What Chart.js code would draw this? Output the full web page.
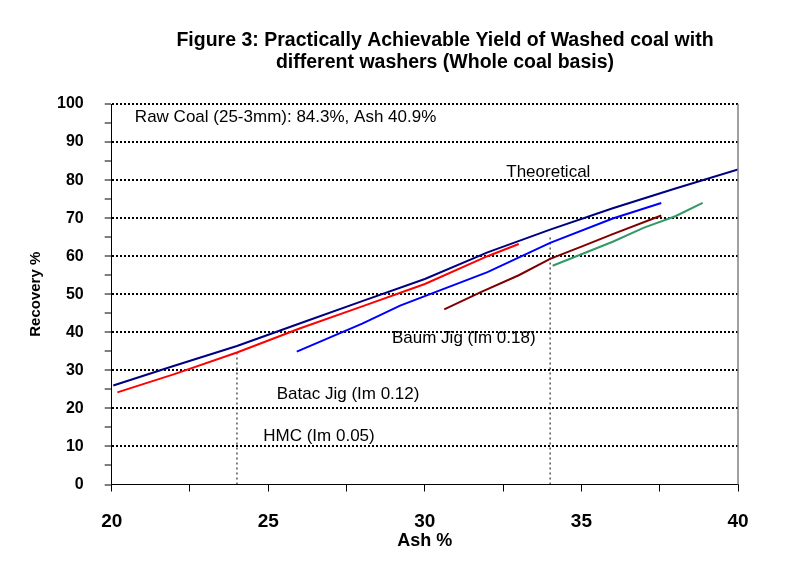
<!DOCTYPE html>
<html>
<head>
<meta charset="utf-8">
<script src="https://cdn.jsdelivr.net/npm/chart.js@4.4.0/dist/chart.umd.min.js"></script>
<style>
  body { margin: 0; background: #fff; }
  canvas { display: block; }
</style>
</head>
<body>
<canvas id="yieldChart" width="800" height="570"></canvas>
<script>
// Curves: ash % (x) vs recovery % (y)
const theoAsh = [20.05, 22, 24, 26, 28, 30, 32, 34, 36, 38, 40];
const theoRec = [26.0, 31.2, 36.4, 42.3, 48.2, 54.0, 61.0, 67.0, 72.6, 77.8, 82.8];

const hmcAsh = [20.18, 22, 24, 26, 28, 30, 32, 33];
const hmcRec = [24.2, 29.0, 34.7, 41.0, 46.8, 52.7, 60.0, 63.2];

const batacAsh = [25.91, 28, 29.21, 30, 32, 34, 36, 37.55];
const batacRec = [34.9, 42.3, 47.0, 49.5, 55.8, 63.5, 69.9, 74.0];

const baumAsh = [30.62, 31.77, 33, 34, 35, 36, 37.55];
const baumRec = [46.0, 50.5, 55.0, 59.3, 62.5, 65.8, 70.7];

const otherAsh = [34.08, 35, 36, 37, 38, 38.87];
const otherRec = [57.5, 60.5, 63.8, 67.5, 70.5, 74.0];

// dotted drop lines
const markAsh = [24, 34];
const markTop = [34.7, 65];

// text notes, anchored in data units (left edge, baseline)
const noteText = ['Raw Coal (25-3mm): 84.3%, Ash 40.9%', 'Theoretical', 'Baum Jig (Im 0.18)', 'Batac Jig (Im 0.12)', 'HMC (Im 0.05)'];
const noteAsh = [20.74, 32.6, 28.95, 25.27, 24.84];
const noteRec = [95.3, 80.8, 37.1, 22.6, 11.5];

const titleLines = ['Figure 3: Practically Achievable Yield of Washed coal with', 'different washers (Whole coal basis)'];

const FONT = '"Liberation Sans", Arial, sans-serif';

function pts(xs, ys) {
  return xs.map((x, i) => ({ x: x, y: ys[i] }));
}

function curve(xs, ys, color) {
  return { data: pts(xs, ys), borderColor: color, borderWidth: 2, pointRadius: 0, showLine: true, fill: false };
}

const datasets = [
  curve(hmcAsh, hmcRec, '#ff0000'),
  curve(batacAsh, batacRec, '#0000ff'),
  curve(baumAsh, baumRec, '#800000'),
  curve(otherAsh, otherRec, '#339966'),
  curve(theoAsh, theoRec, '#000080')
];
markAsh.forEach((a, i) => {
  datasets.push({
    data: [{ x: a, y: 0 }, { x: a, y: markTop[i] }],
    borderColor: '#000', borderWidth: 1, borderDash: [2, 3],
    pointRadius: 0, showLine: true, fill: false
  });
});

// title, notes and the grey right edge of the plot
const extras = {
  id: 'extras',
  afterDraw(chart) {
    const { ctx, chartArea, scales } = chart;
    ctx.save();
    ctx.strokeStyle = '#808080';
    ctx.lineWidth = 1.5;
    ctx.beginPath();
    ctx.moveTo(chartArea.right, chartArea.top);
    ctx.lineTo(chartArea.right, chartArea.bottom);
    ctx.stroke();

    ctx.fillStyle = '#000';
    ctx.textBaseline = 'alphabetic';
    ctx.textAlign = 'left';
    ctx.font = '17px ' + FONT;
    noteText.forEach((t, i) => {
      ctx.fillText(t, scales.x.getPixelForValue(noteAsh[i]), scales.y.getPixelForValue(noteRec[i]));
    });

    ctx.textAlign = 'center';
    ctx.font = 'bold 19.5px ' + FONT;
    ctx.fillText(titleLines[0], 445, 46);
    ctx.fillText(titleLines[1], 445, 68);
    ctx.restore();
  }
};

new Chart(document.getElementById('yieldChart'), {
  type: 'scatter',
  data: { datasets: datasets },
  plugins: [extras],
  options: {
    responsive: false,
    animation: false,
    layout: { padding: { left: 23, right: 62, top: 104, bottom: 0 } },
    plugins: { legend: { display: false }, tooltip: { enabled: false }, title: { display: false } },
    scales: {
      x: {
        type: 'linear', min: 20, max: 40,
        afterFit: s => { s.height = 85.5; },
        ticks: {
          stepSize: 2.5, autoSkip: false, maxRotation: 0, padding: 19,
          color: '#000', font: { family: FONT, size: 19, weight: 'bold' },
          callback: v => (v % 5 === 0 ? v : '')
        },
        grid: { drawOnChartArea: false, tickLength: 7, tickWidth: 1, tickColor: '#000', lineWidth: 1, color: '#000' },
        border: { color: '#000', width: 1 },
        title: { display: true, text: 'Ash %', color: '#000', padding: { top: 0, bottom: 18 }, font: { family: FONT, size: 18, weight: 'bold' } }
      },
      y: {
        type: 'linear', min: 0, max: 100,
        afterFit: s => { s.width = 88.7; },
        ticks: {
          stepSize: 5, autoSkip: false, padding: 21,
          color: '#000', font: { family: FONT, size: 16, weight: 'bold' },
          callback: v => (v % 10 === 0 ? v : '')
        },
        grid: {
          color: c => (c.tick && c.tick.value % 10 === 0 && c.tick.value !== 0 ? '#000' : 'rgba(0,0,0,0)'),
          lineWidth: 2, tickLength: 7, tickWidth: 1, tickColor: '#000'
        },
        border: { color: '#000', width: 1, dash: [2, 2] },
        title: { display: true, text: 'Recovery %', color: '#000', padding: { top: 4, bottom: 0 }, font: { family: FONT, size: 15, weight: 'bold' } }
      }
    }
  }
});
</script>
</body>
</html>
